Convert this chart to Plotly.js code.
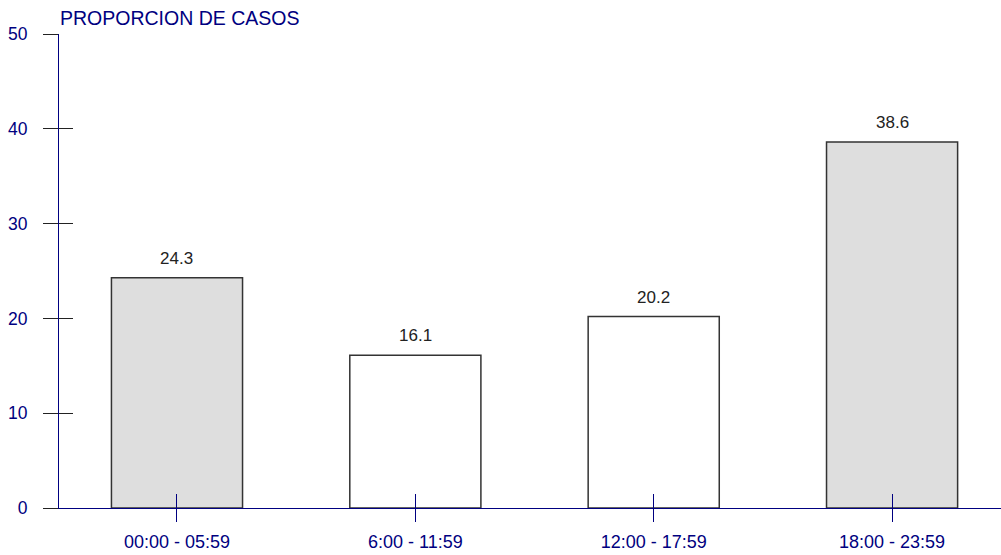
<!DOCTYPE html>
<html>
<head>
<meta charset="utf-8">
<script src="https://cdn.plot.ly/plotly-3.0.1.min.js"></script>
<style>html,body{margin:0;padding:0;background:#fff;}#chart{width:1001px;height:555px;}</style>
</head>
<body>
<div id="chart"></div>
<script>
const categories = ["00:00 - 05:59", "6:00 - 11:59", "12:00 - 17:59", "18:00 - 23:59"];
const values = [24.3, 16.1, 20.2, 38.6];
const barColors = ["#dedede", "#ffffff", "#ffffff", "#dedede"];
const yTicks = [0, 10, 20, 30, 40, 50];
const titleText = "PROPORCION DE CASOS";

const navy = "#000080";
const font = "Liberation Sans, Arial, sans-serif";

const trace = {
  type: "bar",
  x: categories,
  y: values,
  width: 0.55,
  marker: { color: barColors, line: { color: "#333333", width: 1.5 } },
  hoverinfo: "none",
  cliponaxis: false
};

// empty trace so the overlay axes (inner half of the crossing ticks) get drawn
const tickHelper = {
  type: "scatter", mode: "markers", x: [], y: [],
  xaxis: "x2", yaxis: "y2", hoverinfo: "none", showlegend: false
};

const annotations = categories.map((c, i) => ({
  x: c, y: values[i], xref: "x", yref: "y",
  text: values[i].toFixed(1),
  showarrow: false, yanchor: "bottom", yshift: 8,
  font: { family: font, size: 17, color: "#222222" }
}));

const layout = {
  width: 1001, height: 555,
  margin: { l: 59, r: 0, t: 34, b: 47, pad: 0 },
  paper_bgcolor: "#ffffff", plot_bgcolor: "#ffffff",
  showlegend: false,
  title: {
    text: titleText, x: 60 / 1001, xanchor: "left", xref: "container",
    y: 1 - 18 / 555, yanchor: "middle", yref: "container",
    font: { family: font, size: 19.5, color: navy }
  },
  xaxis: {
    type: "category", range: [-0.495, 3.457],
    showline: true, linecolor: navy, linewidth: 1,
    ticks: "outside", ticklen: 13, tickcolor: navy, tickwidth: 1,
    ticklabelstandoff: 4,
    tickfont: { family: font, size: 18, color: navy },
    showgrid: false, zeroline: false, fixedrange: true
  },
  xaxis2: {
    type: "linear", overlaying: "x", anchor: "y", range: [-0.495, 3.457],
    tickvals: [0, 1, 2, 3], ticks: "inside", ticklen: 14, tickcolor: navy, tickwidth: 1,
    showticklabels: false, showline: false, showgrid: false, zeroline: false
  },
  yaxis: {
    range: [0, 50], tickvals: yTicks,
    showline: true, linecolor: navy, linewidth: 1,
    ticks: "outside", ticklen: 15, tickcolor: "#222222", tickwidth: 1,
    ticklabelstandoff: 12,
    tickfont: { family: font, size: 17.5, color: navy },
    showgrid: false, zeroline: false, fixedrange: true
  },
  yaxis2: {
    range: [0, 50], overlaying: "y", anchor: "x", tickvals: yTicks,
    ticks: "inside", ticklen: 14, tickcolor: "#222222", tickwidth: 1,
    showticklabels: false, showline: false, showgrid: false, zeroline: false
  },
  annotations: annotations
};

Plotly.newPlot("chart", [trace, tickHelper], layout, { staticPlot: true, displayModeBar: false });
</script>
</body>
</html>
